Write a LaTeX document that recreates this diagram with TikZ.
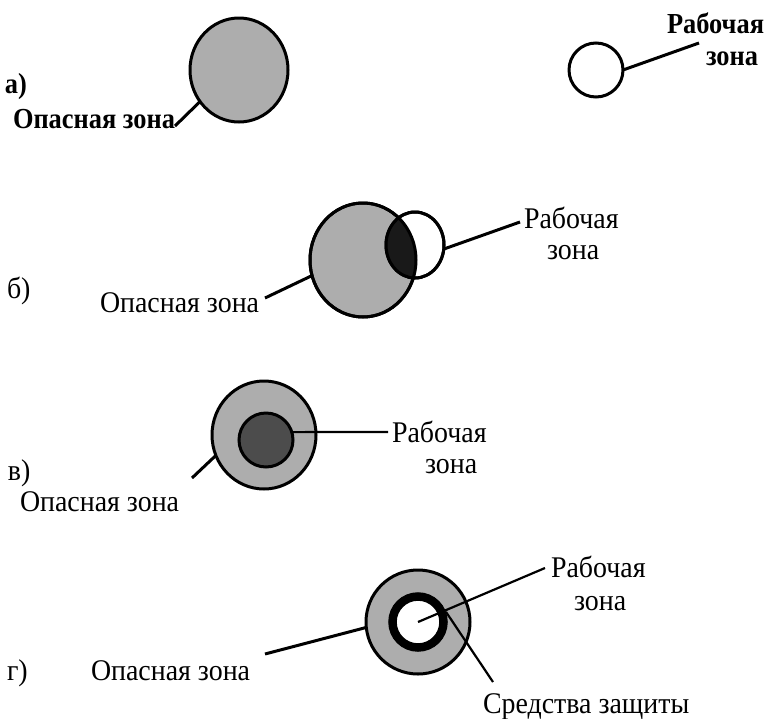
\documentclass[tikz,border=0pt]{standalone}
\usepackage{fontspec}
\setmainfont{Liberation Serif}
\newfontfamily\condreg[FakeStretch=0.93]{Liberation Serif}
\newfontfamily\condbold[FakeStretch=0.91]{Liberation Serif Bold}
\usetikzlibrary{shapes.geometric}
\definecolor{hazgray}{gray}{0.68}
\definecolor{workdark}{gray}{0.1}
\definecolor{workmid}{gray}{0.3}
\begin{document}
\begin{tikzpicture}[x=1pt,y=-1pt,
  zone/.style={ellipse, inner sep=0pt, outer sep=0pt, draw=black, line width=3pt},
  hazard/.style={zone, fill=hazgray},
  lbl/.style={anchor=base west, inner sep=0pt, outer sep=0pt, font=\fontsize{30}{32}\condreg},
  lblb/.style={lbl, font=\fontsize{29}{32}\condbold},
  conn/.style={line width=3pt},
  thinconn/.style={line width=2.2pt},
]
\useasboundingbox (0,0) rectangle (768,718);

% ---------- a)
\node[hazard, minimum width=98pt, minimum height=104pt] (A) at (239,70) {};
\node[zone, fill=white, minimum width=54pt, minimum height=54pt] (B) at (596,70) {};
\node[lblb] (la) at (5,93) {а)};
\node[lblb] (aop) at (13,128) {Опасная зона};
\node[lblb] (arab) at (667,33) {Рабочая};
\node[lblb] (azon) at (706,65) {зона};
\coordinate (aopEnd) at (175,126);
\coordinate (arabEnd) at (699,43);
\draw[conn] (aopEnd) -- (A.219);
\draw[conn] (B.0) -- (arabEnd);

% ---------- б)
\node[hazard, minimum width=106pt, minimum height=114pt] (C) at (363,260) {};
\node[zone, fill=white, minimum width=58pt, minimum height=66pt] (D) at (415,245) {};
\begin{scope}
  \clip (C.center) ellipse [x radius=53pt, y radius=57pt];
  \fill[workdark] (D.center) ellipse [x radius=29pt, y radius=33pt];
\end{scope}
\draw[line width=3pt] (C.center) ellipse [x radius=53pt, y radius=57pt];
\draw[line width=3pt] (D.center) ellipse [x radius=29pt, y radius=33pt];
\node[lbl] (lb) at (7,298) {б)};
\node[lbl] (bop) at (100,312) {Опасная зона};
\node[lbl] (brab) at (524,228) {Рабочая};
\node[lbl] (bzon) at (547,259) {зона};
\coordinate (bopEnd) at (265,298);
\coordinate (brabEnd) at (520,222);
\draw[conn] (bopEnd) -- (C.197);
\draw[conn] (D.352) -- (brabEnd);

% ---------- в)
\node[hazard, minimum width=104pt, minimum height=108pt] (E) at (264,435) {};
\node[zone, fill=workmid, minimum width=54pt, minimum height=54pt] (F) at (266,440) {};
\node[lbl] (lv) at (8,480) {в)};
\node[lbl] (vop) at (20,511) {Опасная зона};
\node[lbl] (vrab) at (392,442) {Рабочая};
\node[lbl] (vzon) at (425,473) {зона};
\coordinate (vopEnd) at (192,478);
\coordinate (vrabEnd) at (388,432);
\draw[conn] (vopEnd) -- (E.203);
\draw[thinconn] (F.17) -- (vrabEnd);

% ---------- г)
\node[hazard, minimum width=104pt, minimum height=104pt] (G) at (418,622) {};
\node[circle, draw=black, line width=8.5pt, fill=white, minimum size=51pt, inner sep=0pt, outer sep=4.25pt] (H) at (418,622) {};
\node[lbl] (lg) at (7,680) {г)};
\node[lbl] (gop) at (91,680) {Опасная зона};
\node[lbl] (grab) at (551,577) {Рабочая};
\node[lbl] (gzon) at (574,610) {зона};
\node[lbl] (gsr) at (483,713) {Средства защиты};
\coordinate (gopEnd) at (265,654);
\coordinate (grabEnd) at (545,568);
\coordinate (gsrEnd) at (493,682);
\draw[conn] (gopEnd) -- (G.186);
\draw[thinconn] (H.center) -- (grabEnd);
\draw[thinconn] (H.20) -- (gsrEnd);
\end{tikzpicture}
\end{document}
